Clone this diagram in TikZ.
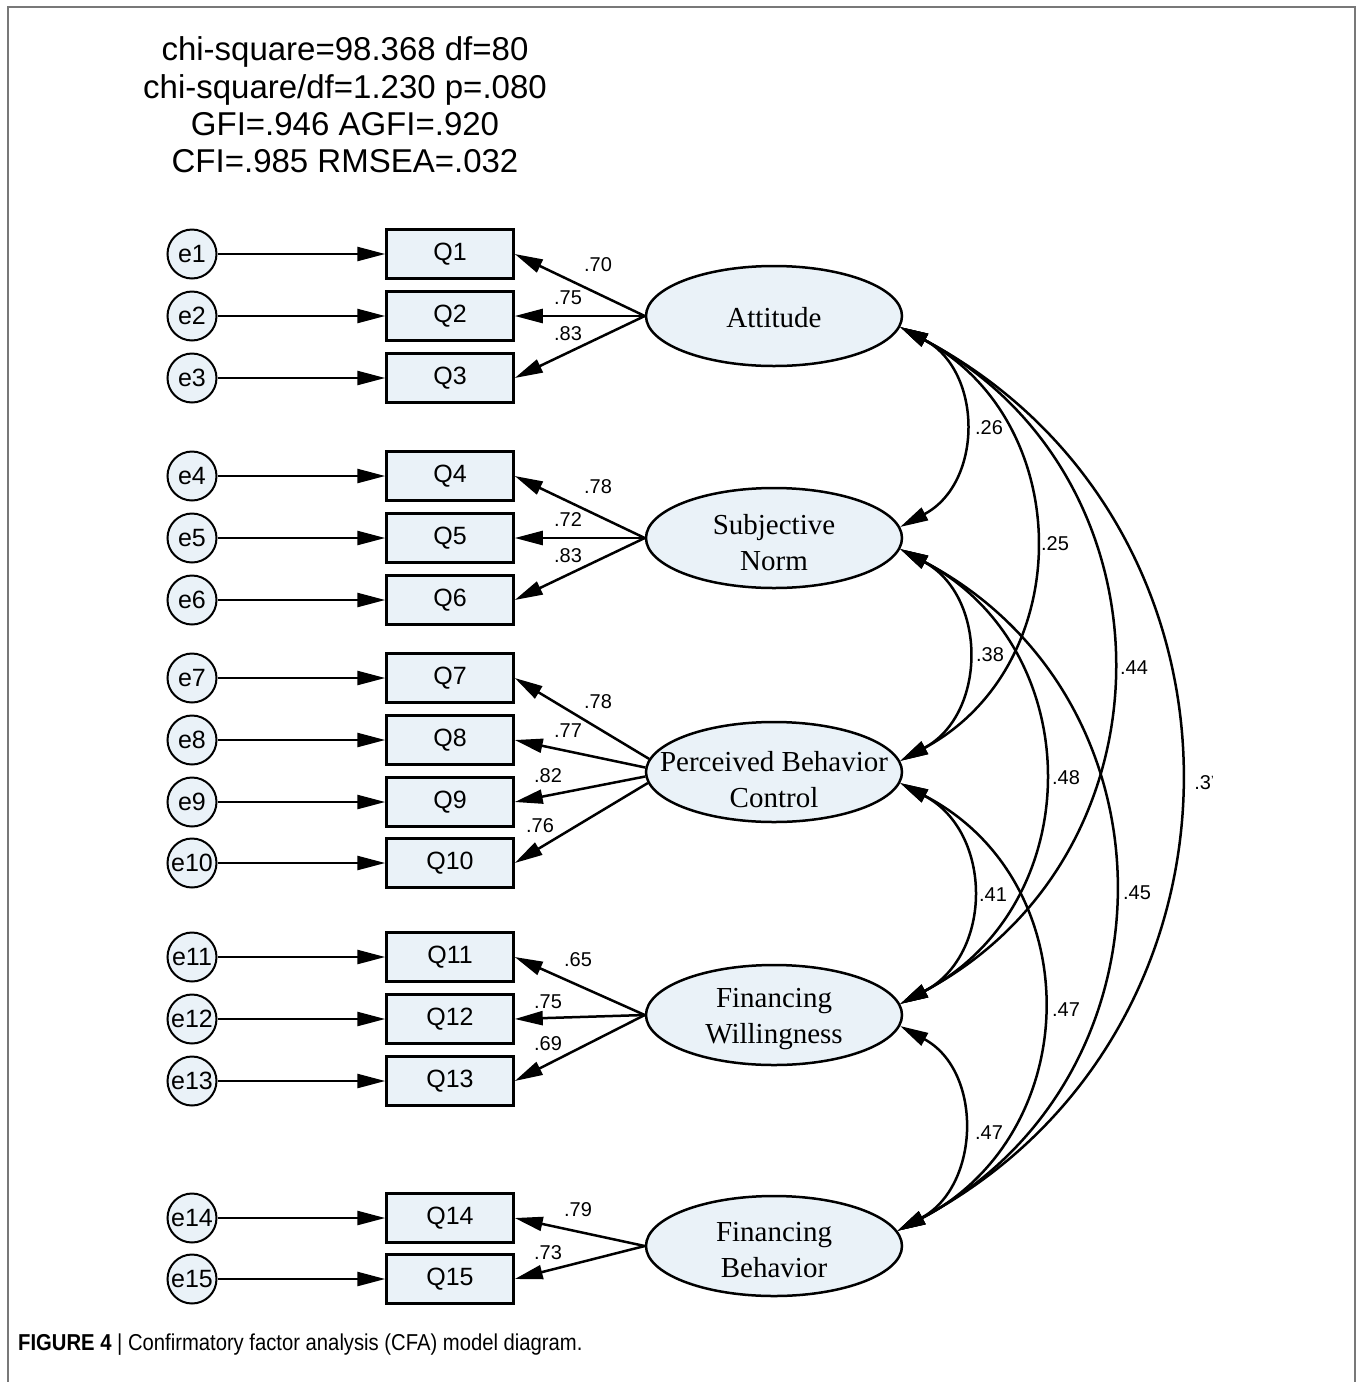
\documentclass[tikz,border=0pt]{standalone}
\usepackage{fontspec}
\setmainfont{Liberation Serif}
\setsansfont{Liberation Sans}
\newfontfamily\capfont[FakeStretch=0.88]{Liberation Sans}
\usetikzlibrary{shapes.geometric,arrows.meta}
\definecolor{boxfill}{RGB}{234,242,248}
\definecolor{framegray}{RGB}{120,120,120}
\begin{document}
\begin{tikzpicture}[x=1pt,y=-1pt,
  errnode/.style={circle,draw,line width=2pt,fill=boxfill,minimum size=49pt,inner sep=0pt,
    font=\sffamily\fontsize{25}{25}\selectfont},
  obsnode/.style={rectangle,draw,line width=2.5pt,fill=boxfill,minimum width=127pt,minimum height=49pt,
    inner sep=0pt,font=\sffamily\fontsize{25}{25}\selectfont},
  latnode/.style={ellipse,draw,line width=2.5pt,fill=boxfill,minimum width=256pt,minimum height=100pt,inner sep=0pt},
  lattext/.style={align=center,inner sep=0pt,font=\rmfamily\fontsize{29}{36}\selectfont},
  pathline/.style={line width=2.5pt,-{Triangle[length=28pt,width=14pt]}},
  covline/.style={line width=2.5pt,{Triangle[length=28pt,width=14pt]}-{Triangle[length=28pt,width=14pt]}},
  coef/.style={inner sep=0pt,font=\sffamily\fontsize{20}{20}\selectfont},
]
\useasboundingbox (0,0) rectangle (1362,1382);
\draw[framegray,line width=1.5pt] (8,1382) -- (8,7) -- (1355,7) -- (1355,1382);

\node[align=center,inner sep=0pt,font=\sffamily\fontsize{33}{37.2}\selectfont] (fit) at (345,105)
 {chi-square=98.368 df=80\\chi-square/df=1.230 p=.080\\GFI=.946 AGFI=.920\\CFI=.985 RMSEA=.032};

% error terms and observed variables
\foreach \i/\y in {1/254,2/316,3/378,4/476,5/538,6/600,7/678,8/740,9/802,10/863,11/957,12/1019,13/1081,14/1218,15/1279}{
  \node[errnode] (e\i) at (192,\y) {e\i};
  \node[obsnode] (q\i) at (450,\y) {\raisebox{-2pt}{Q\i}};
  \draw[pathline] (e\i) -- (q\i);
}

% latent variables
\node[latnode] (att) at (774,316) {};
\node[lattext] (attT) at (774,318) {Attitude};
\node[latnode] (sn) at (774,538) {};
\node[lattext] (snT) at (774,543) {Subjective\\Norm};
\node[latnode] (pbc) at (774,772) {};
\node[lattext] (pbcT) at (774,780) {Perceived Behavior\\Control};
\node[latnode] (fw) at (774,1015) {};
\node[lattext] (fwT) at (774,1019) {Financing\\Willingness};
\node[latnode] (fb) at (774,1246) {};
\node[lattext] (fbT) at (774,1250) {Financing\\Behavior};

% loadings
\draw[pathline] (att.west) -- (q1.east);
\draw[pathline] (att.west) -- (q2.east);
\draw[pathline] (att.west) -- (q3.east);
\draw[pathline] (sn.west) -- (q4.east);
\draw[pathline] (sn.west) -- (q5.east);
\draw[pathline] (sn.west) -- (q6.east);
\draw[pathline] (pbc.174) -- (q7.east);
\draw[pathline] (pbc.178) -- (q8.east);
\draw[pathline] (pbc.182) -- (q9.east);
\draw[pathline] (pbc.185) -- (q10.east);
\draw[pathline] (fw.west) -- (q11.east);
\draw[pathline] (fw.west) -- (q12.east);
\draw[pathline] (fw.west) -- (q13.east);
\draw[pathline] (fb.west) -- (q14.east);
\draw[pathline] (fb.west) -- (q15.east);

\node[coef] (l1) at (598,265) {.70};
\node[coef] (l2) at (568,298) {.75};
\node[coef] (l3) at (568,334) {.83};
\node[coef] (l4) at (598,487) {.78};
\node[coef] (l5) at (568,520) {.72};
\node[coef] (l6) at (568,556) {.83};
\node[coef] (l7) at (598,702) {.78};
\node[coef] (l8) at (568,731) {.77};
\node[coef] (l9) at (548,776) {.82};
\node[coef] (l10) at (540,826) {.76};
\node[coef] (l11) at (578,960) {.65};
\node[coef] (l12) at (548,1002) {.75};
\node[coef] (l13) at (548,1044) {.69};
\node[coef] (l14) at (578,1210) {.79};
\node[coef] (l15) at (548,1253) {.73};

% covariances
\draw[covline] (att.-5) .. controls +(83,44) and +(83,-44) .. (sn.5);
\draw[covline] (att.-5) .. controls +(177,95) and +(177,-95) .. (pbc.5);
\draw[covline] (att.-5) .. controls +(280,149) and +(280,-149) .. (fw.5);
\draw[covline] (att.-5) .. controls +(372,198) and +(372,-198) .. (fb.7);
\draw[covline] (sn.-5) .. controls +(87,47) and +(87,-47) .. (pbc.5);
\draw[covline] (sn.-5) .. controls +(189,100) and +(189,-100) .. (fw.5);
\draw[covline] (sn.-5) .. controls +(284,150) and +(284,-150) .. (fb.7);
\draw[covline] (pbc.-5) .. controls +(93,49) and +(93,-49) .. (fw.5);
\draw[covline] (pbc.-5) .. controls +(189,98) and +(189,-98) .. (fb.7);
\draw[covline] (fw.-5) .. controls +(83,45) and +(83,-45) .. (fb.7);

\node[coef] (c1) at (989,428) {.26};
\node[coef] (c2) at (1055,544) {.25};
\node[coef] (c3) at (1134,668) {.44};
\node[coef] (c4) at (1204,783) {.3\raisebox{5pt}{\fontsize{12}{12}\selectfont'}};
\node[coef] (c5) at (990,655) {.38};
\node[coef] (c6) at (1066,778) {.48};
\node[coef] (c7) at (1137,893) {.45};
\node[coef] (c8) at (993,895) {.41};
\node[coef] (c9) at (1066,1010) {.47};
\node[coef] (c10) at (989,1133) {.47};

\node[anchor=west,inner sep=0pt,font=\capfont\fontsize{23}{23}\selectfont] (cap) at (18,1345)
 {\textbf{FIGURE 4} | Confirmatory factor analysis (CFA) model diagram.};
\end{tikzpicture}
\end{document}
